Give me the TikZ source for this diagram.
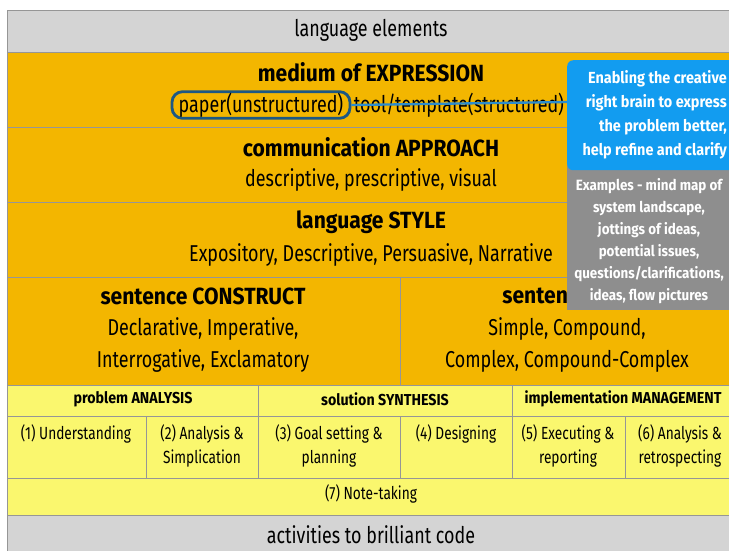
\documentclass[tikz,border=0pt]{standalone}
\usepackage{fontspec}
\setmainfont{Fira Sans}[UprightFeatures={FakeStretch=0.78}, BoldFeatures={FakeStretch=0.9}]
\usetikzlibrary{positioning}
\definecolor{headgray}{RGB}{212,212,212}
\definecolor{amber}{RGB}{243,182,0}
\definecolor{lemon}{RGB}{250,247,110}
\definecolor{skyblue}{RGB}{18,156,240}
\definecolor{notegray}{RGB}{142,142,142}
\definecolor{inkblue}{RGB}{28,88,132}
\definecolor{wireblue}{RGB}{44,140,205}
\definecolor{rulegray}{RGB}{150,150,150}
\tikzset{
  plain/.style={font=\fontsize{19.6}{27}\selectfont, inner sep=1pt},
  heading/.style={font=\fontsize{20}{27}\selectfont\bfseries, inner sep=1pt},
  twoline/.style={plain, align=center},
  tag/.style={font=\fontsize{13.5}{20}\selectfont\bfseries, inner sep=1pt},
  step label/.style={font=\fontsize{15}{20.4}\selectfont, align=center, anchor=north, inner sep=1pt},
  band/.style={draw=rulegray, line width=0.6pt},
  brainbox/.style={fill=skyblue, rounded corners=5pt, minimum width=6cm, minimum height=3.3cm, anchor=north west},
  notebox/.style={fill=notegray, minimum width=6cm, minimum height=4.5cm, anchor=north west},
  calltext/.style={text=white, font=\fontsize{13.7}{20.4}\selectfont\bfseries, inner sep=0pt},
  link/.style={draw=wireblue, line width=2pt}
}
\begin{document}
\begin{tikzpicture}[x=0.03cm, y=-0.03cm]
\useasboundingbox (0,0) rectangle (729,550);
\clip (0,0) rectangle (729,550);
\fill[white] (0,0) rectangle (729,550);
\filldraw[band, fill=headgray] (7,10) rectangle (745,52);
\filldraw[band, fill=amber] (7,52) rectangle (745,385);
\foreach \y in {127,202,277}
{
  \draw[band] (7,\y) -- (745,\y);
}
\draw[band] (400,277) -- (400,385);
\filldraw[band, fill=lemon] (7,385) rectangle (745,515);
\foreach \y in {416,478}
{
  \draw[band] (7,\y) -- (745,\y);
}
\foreach \x in {258,512}
{
  \draw[band] (\x,385) -- (\x,478);
}
\foreach \x in {146,400,625}
{
  \draw[band] (\x,416) -- (\x,478);
}
\filldraw[band, fill=headgray] (7,515) rectangle (745,560);

\node[plain] (elements) at (371,30) {language elements};
\node[heading] (medium) at (371,72) {medium of EXPRESSION};
\node[plain, draw=inkblue, line width=2.4pt, rounded corners=9pt, minimum width=5.34cm, minimum height=0.78cm] (paper) at (261,105) {paper(unstructured)};
\node[plain] (tool) at (459,105) {tool/template(structured)};
\node[heading] (approach) at (371,147) {communication APPROACH};
\node[plain] (approaches) at (371,180) {descriptive, prescriptive, visual};
\node[heading] (style) at (371,222) {language STYLE};
\node[plain] (styles) at (371,255) {Expository, Descriptive, Persuasive, Narrative};
\node[heading] (construct) at (203,296) {sentence CONSTRUCT};
\node[twoline] (constructs) at (203,345) {Declarative, Imperative,\\Interrogative, Exclamatory};
\node[heading, anchor=west] (structure) at (501,296) {senten};
\node[twoline] (structures) at (567,345) {Simple, Compound,\\Complex, Compound-Complex};

\node[tag] (analysis) at (133,399) {problem ANALYSIS};
\node[tag] (synthesis) at (385,399) {solution SYNTHESIS};
\node[tag] (management) at (623,399) {implementation MANAGEMENT};
\foreach \n/\x/\t in {understand/76/{(1) Understanding}, simplify/202/{(2) Analysis \&\\Simplication},
  goals/329/{(3) Goal setting \&\\planning}, design/456/{(4) Designing},
  execute/568/{(5) Executing \&\\reporting}, retro/680/{(6) Analysis \&\\retrospecting}}
{
  \node[step label] (\n) at (\x,423) {\t};
}
\node[step label, anchor=center] (notes) at (371,494) {(7) Note-taking};
\node[plain] (activities) at (371,535) {activities to brilliant code};

\coordinate (pin) at (568,102);
\draw[link] (paper.east) -- (pin);
\node[notebox] (examples) at (567,160) {};
\node[brainbox] (brain) at (567,60) {};
\node[calltext, align=right, anchor=east] (braintext) at (727,115) {Enabling the creative\\right brain to express\\the problem better,\\help refine and clarify};
\node[calltext, align=center, font=\fontsize{12.7}{18.7}\selectfont\bfseries] (exampletext) at (649,241) {Examples - mind map of\\system landscape,\\jottings of ideas,\\potential issues,\\questions/clarifications,\\ideas, flow pictures};
\end{tikzpicture}
\end{document}
